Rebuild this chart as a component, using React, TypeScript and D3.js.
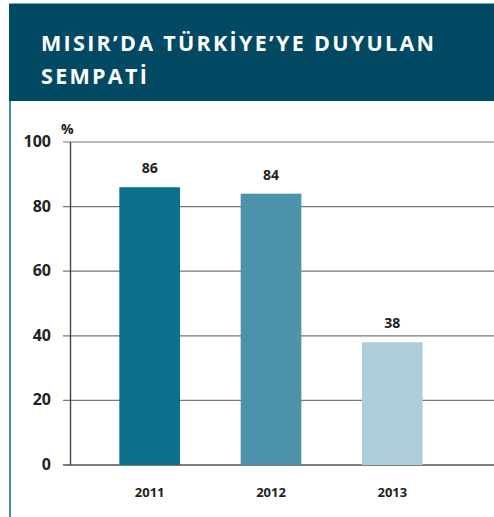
import React from "react";
import * as d3 from "d3";

const years = ["2011", "2012", "2013"];
const values = [86, 84, 38];
const barColors = ["#0a708c", "#4c92aa", "#afccda"];
const yTicks = [0, 20, 40, 60, 80, 100];
const titleLines = ["MISIR’DA TÜRKİYE’YE DUYULAN", "SEMPATİ"];

export default function App() {
  const W = 494, H = 517;
  const y = d3.scaleLinear().domain([0, 100]).range([465, 142]);
  const x = d3.scaleBand().domain(years).range([89, 453]).paddingInner(0.5).paddingOuter(0.25);
  const font = "'Open Sans', sans-serif";
  return (
    <div style={{ position: "absolute", left: 0, top: 0 }}>
      <svg width={W} height={H} style={{ display: "block" }}>
        <rect x={0} y={0} width={W} height={H} fill="#ffffff" />
        <rect x={9} y={3} width={W - 9} height={98} fill="#024a63" />
        <line x1={9} x2={W} y1={3.5} y2={3.5} stroke="#7aa6b6" strokeWidth={1} />
        <line x1={10} x2={10} y1={101} y2={H} stroke="#1a6f8f" strokeWidth={1.6} />
        {titleLines.map((t, i) => (
          <text key={i} x={41} y={51 + i * 33} fill="#ffffff" fontFamily={font} fontWeight={700} fontSize={21.5} letterSpacing={2.3}>
            {t}
          </text>
        ))}
        {yTicks.map((t) => (
          <g key={t}>
            <line x1={63} x2={W} y1={y(t)} y2={y(t)} stroke={t === 0 ? "#555" : "#777"} strokeWidth={t === 0 ? 1.6 : 1.2} />
            <text x={51} y={y(t) + 5} textAnchor="end" fontFamily={font} fontWeight={700} fontSize={16} fill="#222">
              {t}
            </text>
          </g>
        ))}
        <line x1={70.5} x2={70.5} y1={y(100)} y2={y(0)} stroke="#444" strokeWidth={1.4} />
        <text x={61} y={134} fontFamily={font} fontWeight={700} fontSize={14} fill="#222">%</text>
        {years.map((yr, i) => (
          <g key={yr}>
            <rect x={x(yr)} y={y(values[i])} width={x.bandwidth()} height={y(0) - y(values[i])} fill={barColors[i]} />
            <text x={(x(yr) as number) + x.bandwidth() / 2} y={y(values[i]) - 14} textAnchor="middle" fontFamily={font} fontWeight={700} fontSize={14} fill="#222">
              {values[i]}
            </text>
            <text x={(x(yr) as number) + x.bandwidth() / 2} y={497} textAnchor="middle" fontFamily={font} fontWeight={700} fontSize={13} fill="#222">
              {yr}
            </text>
          </g>
        ))}
      </svg>
    </div>
  );
}
